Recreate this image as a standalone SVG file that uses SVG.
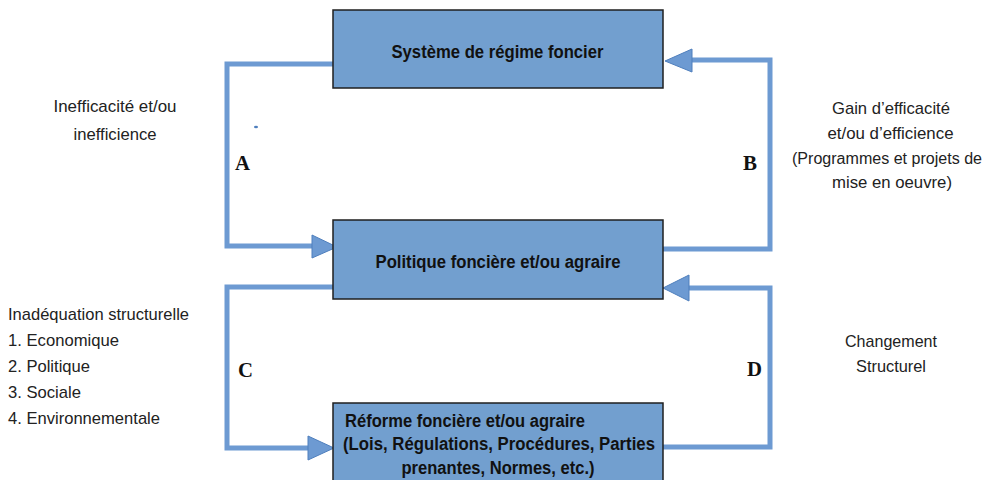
<svg xmlns="http://www.w3.org/2000/svg" width="990" height="480" viewBox="0 0 990 480">
<defs>
<style>
.box{fill:#729fcf;stroke:#1f1f1f;stroke-width:1.5}
.bt{font-family:"Liberation Sans",Arial,sans-serif;font-weight:bold;font-size:18px;fill:#111}
.t{font-family:"Liberation Sans",Arial,sans-serif;font-size:17px;fill:#222}
.lab{font-family:"Liberation Serif","Times New Roman",serif;font-weight:bold;font-size:20px;fill:#111}
.c{fill:none;stroke:#6d9ad2;stroke-width:5;stroke-linejoin:miter}
.h{fill:#6d9ad2;stroke:#4f7fbd;stroke-width:1}
</style>
</defs>
<rect width="990" height="480" fill="#fff"/>
<g id="connectors">
<path class="c" d="M334,64 H227 V246 H313"/>
<polygon class="h" points="312,235 337,247 312,258"/>
<path class="c" d="M663,249 H770 V60 H692"/>
<polygon class="h" points="692,49 665,61 692,72"/>
<path class="c" d="M334,287 H227 V448 H309"/>
<polygon class="h" points="308,436 334,448 308,460"/>
<path class="c" d="M663,447 H770 V288 H689"/>
<polygon class="h" points="689,275 663,288 689,301"/>
<ellipse cx="256" cy="127" rx="2" ry="1.2" fill="#4f7fbd"/>
</g>
<g id="n1">
<rect class="box" x="333" y="10" width="330" height="78"/>
<text class="bt" x="497.5" y="58" text-anchor="middle" textLength="212" lengthAdjust="spacingAndGlyphs">Système de régime foncier</text>
</g>
<g id="n2">
<rect class="box" x="333" y="220" width="330" height="79"/>
<text class="bt" x="498" y="268" text-anchor="middle" textLength="245" lengthAdjust="spacingAndGlyphs">Politique foncière et/ou agraire</text>
</g>
<g id="n3">
<rect class="box" x="333" y="403" width="330" height="90"/>
<text class="bt" x="345" y="427" textLength="240" lengthAdjust="spacingAndGlyphs">Réforme foncière et/ou agraire</text>
<text class="bt" x="343" y="450" textLength="312" lengthAdjust="spacingAndGlyphs">(Lois, Régulations, Procédures, Parties</text>
<text class="bt" x="498" y="474" text-anchor="middle" textLength="193" lengthAdjust="spacingAndGlyphs">prenantes, Normes, etc.)</text>
</g>
<g id="labels">
<text class="lab" x="235" y="170" textLength="15" lengthAdjust="spacingAndGlyphs">A</text>
<text class="lab" x="743" y="170" textLength="14" lengthAdjust="spacingAndGlyphs">B</text>
<text class="lab" x="238" y="377" textLength="15" lengthAdjust="spacingAndGlyphs">C</text>
<text class="lab" x="747" y="376" textLength="15" lengthAdjust="spacingAndGlyphs">D</text>
</g>
<g id="notes">
<text class="t" x="115" y="112" text-anchor="middle" textLength="123" lengthAdjust="spacingAndGlyphs">Inefficacité et/ou</text>
<text class="t" x="115" y="140" text-anchor="middle" textLength="83" lengthAdjust="spacingAndGlyphs">inefficience</text>
<text class="t" x="8" y="320" textLength="181" lengthAdjust="spacingAndGlyphs">Inadéquation structurelle</text>
<text class="t" x="8" y="346" textLength="111" lengthAdjust="spacingAndGlyphs">1. Economique</text>
<text class="t" x="8" y="372" textLength="82" lengthAdjust="spacingAndGlyphs">2. Politique</text>
<text class="t" x="8" y="398" textLength="73" lengthAdjust="spacingAndGlyphs">3. Sociale</text>
<text class="t" x="8" y="424" textLength="152" lengthAdjust="spacingAndGlyphs">4. Environnementale</text>
<text class="t" x="891" y="114" text-anchor="middle" textLength="118" lengthAdjust="spacingAndGlyphs">Gain d’efficacité</text>
<text class="t" x="890.5" y="139" text-anchor="middle" textLength="126" lengthAdjust="spacingAndGlyphs">et/ou d’efficience</text>
<text class="t" x="887" y="164" text-anchor="middle" style="font-size:16px" textLength="190" lengthAdjust="spacingAndGlyphs">(Programmes et projets de</text>
<text class="t" x="892" y="188" text-anchor="middle" textLength="120" lengthAdjust="spacingAndGlyphs">mise en oeuvre)</text>
<text class="t" x="891" y="347" text-anchor="middle" textLength="92" lengthAdjust="spacingAndGlyphs">Changement</text>
<text class="t" x="891" y="372" text-anchor="middle" textLength="70" lengthAdjust="spacingAndGlyphs">Structurel</text>
</g>
</svg>
